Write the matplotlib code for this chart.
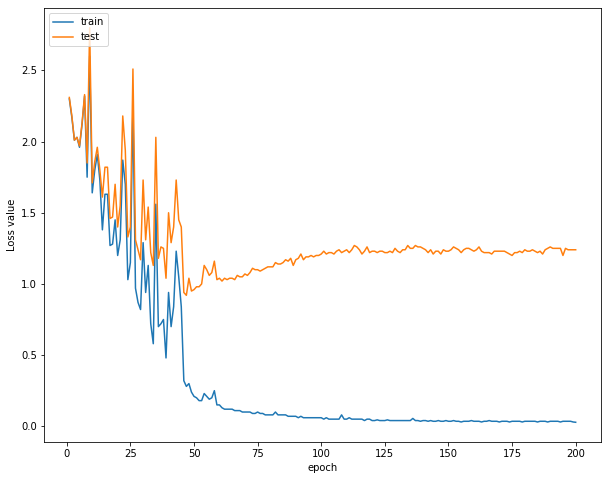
import matplotlib
matplotlib.use("Agg")
import matplotlib.pyplot as plt
import numpy as np

# === loss values, one per epoch ===
train_loss = [
    2.30, 2.17, 2.01, 2.03, 1.96, 2.12, 2.32, 1.75, 2.60, 1.64,
    1.80, 1.91, 1.73, 1.38, 1.63, 1.63, 1.27, 1.28, 1.45, 1.20,
    1.31, 1.87, 1.70, 1.03, 1.15, 2.25, 0.97, 0.87, 0.82, 1.29,
    0.94, 1.13, 0.72, 0.58, 1.56, 0.70, 0.72, 0.75, 0.48, 0.94,
    0.70, 0.84, 1.23, 1.05, 0.84, 0.32, 0.28, 0.30, 0.24, 0.21,
    0.20, 0.18, 0.18, 0.23, 0.21, 0.19, 0.20, 0.25, 0.15, 0.15,
    0.13, 0.12, 0.12, 0.12, 0.12, 0.11, 0.11, 0.11, 0.10, 0.10,
    0.10, 0.10, 0.09, 0.09, 0.10, 0.09, 0.09, 0.08, 0.08, 0.08,
    0.08, 0.10, 0.08, 0.08, 0.08, 0.08, 0.07, 0.07, 0.07, 0.07,
    0.06, 0.07, 0.06, 0.06, 0.06, 0.06, 0.06, 0.06, 0.06, 0.06,
    0.05, 0.06, 0.05, 0.05, 0.05, 0.05, 0.05, 0.08, 0.05, 0.05,
    0.06, 0.05, 0.05, 0.05, 0.05, 0.05, 0.04, 0.05, 0.05, 0.04,
    0.04, 0.045, 0.04, 0.04, 0.04, 0.045, 0.04, 0.04, 0.04, 0.04,
    0.04, 0.04, 0.04, 0.04, 0.04, 0.055, 0.04, 0.04, 0.035, 0.04,
    0.04, 0.035, 0.04, 0.035, 0.035, 0.04, 0.035, 0.035, 0.04, 0.035,
    0.035, 0.04, 0.035, 0.035, 0.03, 0.035, 0.035, 0.035, 0.04, 0.035,
    0.035, 0.035, 0.03, 0.035, 0.035, 0.04, 0.035, 0.035, 0.035, 0.03,
    0.035, 0.035, 0.035, 0.03, 0.035, 0.035, 0.035, 0.035, 0.03, 0.035,
    0.035, 0.035, 0.035, 0.035, 0.03, 0.035, 0.035, 0.035, 0.03, 0.035,
    0.035, 0.035, 0.035, 0.03, 0.035, 0.035, 0.035, 0.035, 0.03, 0.028,
]

test_loss = [
    2.31, 2.18, 2.01, 2.03, 1.97, 2.13, 2.33, 1.85, 2.80, 1.71,
    1.86, 1.96, 1.80, 1.61, 1.82, 1.82, 1.46, 1.47, 1.70, 1.40,
    1.55, 2.18, 1.94, 1.33, 1.40, 2.51, 1.31, 1.24, 1.17, 1.73,
    1.31, 1.54, 1.22, 1.13, 2.03, 1.18, 1.26, 1.25, 1.04, 1.50,
    1.29, 1.40, 1.73, 1.45, 1.40, 0.94, 0.92, 1.04, 0.95, 0.96,
    0.98, 0.98, 1.00, 1.13, 1.10, 1.06, 1.08, 1.16, 1.03, 1.04,
    1.02, 1.04, 1.03, 1.04, 1.04, 1.03, 1.06, 1.05, 1.05, 1.07,
    1.06, 1.08, 1.11, 1.10, 1.10, 1.09, 1.10, 1.11, 1.12, 1.12,
    1.12, 1.15, 1.14, 1.14, 1.15, 1.17, 1.16, 1.18, 1.13, 1.17,
    1.18, 1.21, 1.17, 1.19, 1.19, 1.20, 1.19, 1.20, 1.20, 1.21,
    1.23, 1.21, 1.22, 1.22, 1.21, 1.23, 1.24, 1.22, 1.23, 1.24,
    1.22, 1.24, 1.27, 1.26, 1.24, 1.21, 1.23, 1.26, 1.22, 1.23,
    1.23, 1.22, 1.23, 1.23, 1.22, 1.22, 1.23, 1.22, 1.25, 1.23,
    1.22, 1.24, 1.24, 1.27, 1.25, 1.25, 1.27, 1.26, 1.26, 1.25,
    1.24, 1.22, 1.24, 1.21, 1.23, 1.23, 1.21, 1.24, 1.23, 1.23,
    1.24, 1.26, 1.25, 1.24, 1.22, 1.24, 1.25, 1.25, 1.24, 1.23,
    1.24, 1.26, 1.23, 1.22, 1.22, 1.22, 1.21, 1.23, 1.23, 1.23,
    1.23, 1.23, 1.22, 1.21, 1.20, 1.22, 1.22, 1.23, 1.22, 1.24,
    1.23, 1.23, 1.24, 1.23, 1.22, 1.23, 1.21, 1.24, 1.25, 1.26,
    1.25, 1.25, 1.25, 1.25, 1.20, 1.25, 1.24, 1.24, 1.24, 1.24,
]

epochs = np.arange(1, len(train_loss) + 1)

# === plot ===
fig = plt.figure(figsize=(609 / 72, 480 / 72), dpi=72)
ax = fig.add_axes([44 / 609, 38 / 480, 557 / 609, 434 / 480])

ax.plot(epochs, train_loss, label="train")
ax.plot(epochs, test_loss, label="test")
ax.set_xlabel("epoch")
ax.set_ylabel("Loss value")
ax.legend(loc="upper left")

fig.savefig("out.png", dpi=72)
